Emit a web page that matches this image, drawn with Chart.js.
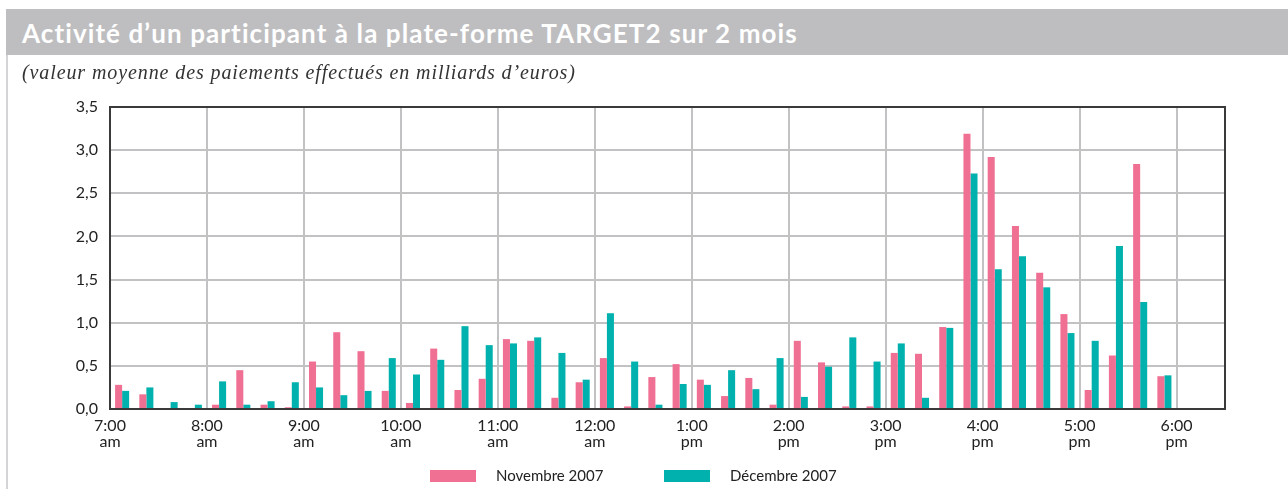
<!DOCTYPE html>
<html>
<head>
  <title>Activité TARGET2</title>
  <script src="https://cdn.jsdelivr.net/npm/chart.js"></script>
  <style>
    body { margin: 0; background: #fff; }
    #page { position: relative; width: 1288px; height: 489px; overflow: hidden; }
    #bande { position: absolute; left: 6px; top: 9px; width: 1282px; height: 46px; background: #bebec0; }
    #titre { position: absolute; left: 22px; top: 17px; color: #fff; font: bold 26px Lato, sans-serif; letter-spacing: 1.1px; white-space: nowrap; }
    #bord { position: absolute; left: 6px; top: 55px; width: 2px; height: 434px; background: #d4d4d6; }
    #soustitre { position: absolute; left: 22px; top: 61px; font: italic 20px "Liberation Serif", serif; letter-spacing: 0.9px; color: #333; white-space: nowrap; }
    #graph { position: absolute; left: 0; top: 0; }
    .leg { position: absolute; top: 466px; font: 15px Lato, sans-serif; color: #222; white-space: nowrap; }
    .leg span { display: inline-block; width: 46px; height: 12px; margin-right: 20px; vertical-align: -1px; }
  </style>
</head>
<body>
<div id="page">
  <canvas id="graph" width="1288" height="489"></canvas>
  <div id="bande"></div>
  <div id="titre">Activité d’un participant à la plate-forme TARGET2 sur 2 mois</div>
  <div id="bord"></div>
  <div id="soustitre">(valeur moyenne des paiements effectués en milliards d’euros)</div>
  <div id="legende"></div>
</div>

<script>
  // Tranches de 15 minutes de 7:00 à 18:00
  const tranches = ['7:00','7:15','7:30','7:45','8:00','8:15','8:30','8:45',
    '9:00','9:15','9:30','9:45','10:00','10:15','10:30','10:45',
    '11:00','11:15','11:30','11:45','12:00','12:15','12:30','12:45',
    '13:00','13:15','13:30','13:45','14:00','14:15','14:30','14:45',
    '15:00','15:15','15:30','15:45','16:00','16:15','16:30','16:45',
    '17:00','17:15','17:30','17:45'];

  const novembre = [0.28, 0.17, 0.01, 0.00, 0.05, 0.45, 0.05, 0.02,
    0.55, 0.89, 0.67, 0.21, 0.07, 0.70, 0.22, 0.35,
    0.81, 0.79, 0.13, 0.31, 0.59, 0.03, 0.37, 0.52,
    0.34, 0.15, 0.36, 0.05, 0.79, 0.54, 0.03, 0.03,
    0.65, 0.64, 0.95, 3.19, 2.92, 2.12, 1.58, 1.10,
    0.22, 0.62, 2.84, 0.38];

  const decembre = [0.21, 0.25, 0.08, 0.05, 0.32, 0.05, 0.09, 0.31,
    0.25, 0.16, 0.21, 0.59, 0.40, 0.57, 0.96, 0.74,
    0.76, 0.83, 0.65, 0.34, 1.11, 0.55, 0.05, 0.29,
    0.28, 0.45, 0.23, 0.59, 0.14, 0.49, 0.83, 0.55,
    0.76, 0.13, 0.94, 2.73, 1.62, 1.77, 1.41, 0.88,
    0.79, 1.89, 1.24, 0.39];

  const tickHeures = ['7:00','8:00','9:00','10:00','11:00','12:00','1:00','2:00','3:00','4:00','5:00','6:00'];
  const tickPeriodes = ['am','am','am','am','am','am','pm','pm','pm','pm','pm','pm'];
  const yTicks = [0, 0.5, 1, 1.5, 2, 2.5, 3, 3.5];

  const rose = '#f07094';
  const turquoise = '#00b1ae';

  const toPoints = arr => arr.map((v, i) => ({ x: i + 0.5, y: v }));

  const cadre = {
    id: 'cadre',
    afterDraw(chart) {
      const a = chart.chartArea, c = chart.ctx;
      c.save();
      c.strokeStyle = '#3a3a3a';
      c.lineWidth = 2;
      c.strokeRect(a.left, a.top, a.right - a.left, a.bottom - a.top);
      c.restore();
    }
  };

  const ctx = document.getElementById('graph').getContext('2d');
  const chart = new Chart(ctx, {
    type: 'bar',
    data: {
      datasets: [
        { label: 'Novembre 2007', data: toPoints(novembre), backgroundColor: rose },
        { label: 'Décembre 2007', data: toPoints(decembre), backgroundColor: turquoise }
      ]
    },
    options: {
      responsive: false,
      animation: false,
      categoryPercentage: 0.58,
      barPercentage: 1.0,
      layout: { padding: { top: 107, left: 0, right: 63, bottom: 0 } },
      plugins: {
        legend: { display: false },
        tooltip: { enabled: false }
      },
      scales: {
        x: {
          type: 'linear',
          min: 0,
          max: tranches.length + 2,
          offset: false,
          grid: { offset: false, color: '#c2c2c4', lineWidth: 2, drawTicks: false },
          border: { display: false },
          afterFit: s => { s.height = 80; },
          ticks: {
            stepSize: 4,
            includeBounds: false,
            maxRotation: 0,
            autoSkip: false,
            padding: 8,
            color: '#222',
            font: { family: 'Lato', size: 16, lineHeight: 1.05 },
            callback: v => {
              const k = v / 4;
              return Number.isInteger(k) && tickHeures[k] ? [tickHeures[k], tickPeriodes[k]] : '';
            }
          }
        },
        y: {
          min: 0,
          max: 3.5,
          afterFit: s => { s.width = 110; },
          afterBuildTicks: s => { s.ticks = yTicks.map(v => ({ value: v })); },
          grid: { color: '#c2c2c4', lineWidth: 2, drawTicks: false },
          border: { display: false },
          ticks: {
            padding: 12,
            color: '#222',
            font: { family: 'Lato', size: 16 },
            callback: v => v.toFixed(1).replace('.', ',')
          }
        }
      }
    },
    plugins: [cadre]
  });

  // Légende construite à partir des séries
  const legende = document.getElementById('legende');
  const legX = [430, 664];
  chart.data.datasets.forEach((d, i) => {
    const el = document.createElement('div');
    el.className = 'leg';
    el.style.left = legX[i] + 'px';
    el.innerHTML = '<span style="background:' + d.backgroundColor + '"></span>' + d.label;
    legende.appendChild(el);
  });
</script>
</body>
</html>
